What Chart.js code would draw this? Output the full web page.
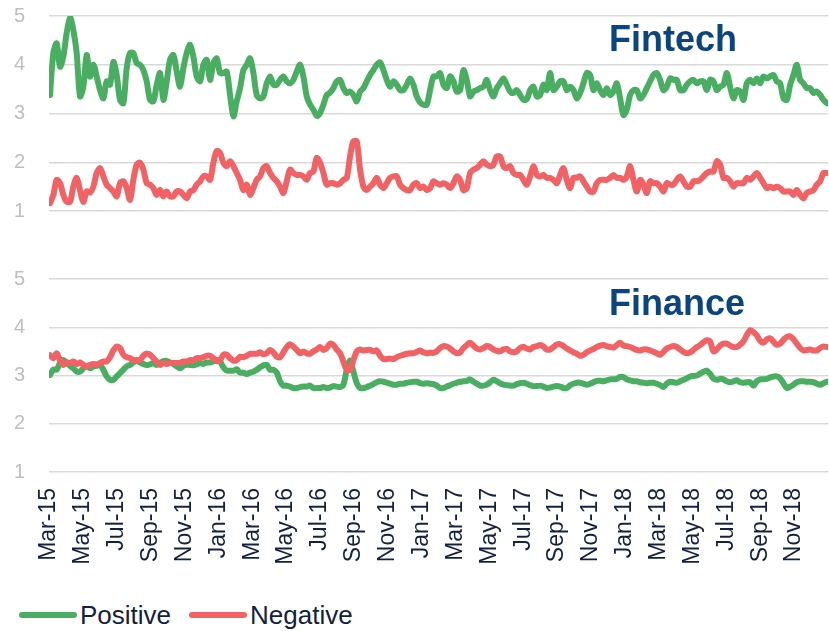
<!DOCTYPE html>
<html>
<head>
<meta charset="utf-8">
<script src="https://cdn.jsdelivr.net/npm/chart.js@4.4.1/dist/chart.umd.min.js"></script>
<style>
  html, body { margin: 0; padding: 0; background: #ffffff; }
  body { width: 829px; height: 631px; position: relative; overflow: hidden;
         font-family: "Liberation Sans", Arial, sans-serif; }
  #topWrap { position: absolute; left: 0; top: 0; width: 829px; height: 226px; }
  #botWrap { position: absolute; left: 0; top: 250px; width: 829px; height: 335px; }
  .panelTitle { position: absolute; font-weight: bold; font-size: 36px; line-height: 36px;
                color: #0a4582; white-space: nowrap; }
  #legend { position: absolute; left: 19px; top: 600px; display: flex; align-items: center; }
  .item { display: flex; align-items: center; height: 30px; margin-right: 18px; }
  .swatch { width: 58px; height: 6px; border-radius: 3px; margin-right: 3px; }
  .ltext { font-size: 26px; line-height: 30px; color: #13213f; }
</style>
</head>
<body>
<div id="topWrap"><canvas id="topChart" width="829" height="226"></canvas></div>
<div id="botWrap"><canvas id="botChart" width="829" height="335"></canvas></div>
<div class="panelTitle" style="left:609px; top:21px;">Fintech</div>
<div class="panelTitle" style="left:609px; top:285px;">Finance</div>
<div id="legend"></div>
<script>
// x-axis tick labels (every second month, months counted from Mar-15 = 0)
const tickLabels = ['Mar-15','May-15','Jul-15','Sep-15','Nov-15','Jan-16','Mar-16','May-16','Jul-16','Sep-16','Nov-16',
  'Jan-17','Mar-17','May-17','Jul-17','Sep-17','Nov-17','Jan-18','Mar-18','May-18','Jul-18','Sep-18','Nov-18'];
const seriesNames = ['Positive', 'Negative'];
// first and last observation, in months since 1 Mar 2015 (observations evenly spaced)
const firstMonth = 0.06;
const lastMonth = 45.93;

// Fintech sentiment
const fintechPositive = [
  3.38,4.24,4.44,3.96,4.17,4.65,4.97,4.71,4.24,3.35,3.55,4.20,3.76,4.00,3.76,3.48,3.31,3.66,3.59,4.06,
  3.79,3.28,3.21,3.93,4.24,4.24,4.03,4.00,3.89,3.66,3.28,3.25,3.59,3.83,3.28,3.66,4.10,4.20,3.86,3.55,
  3.93,4.24,4.41,4.17,3.76,3.66,4.00,4.10,3.69,4.03,4.13,3.83,3.83,3.86,3.38,2.94,3.25,3.52,3.89,
  4.00,4.13,3.83,3.38,3.31,3.35,3.62,3.76,3.59,3.59,3.69,3.76,3.66,3.62,3.69,3.86,4.00,3.76,3.35,3.18,
  3.08,2.95,3.01,3.18,3.38,3.43,3.52,3.66,3.69,3.52,3.42,3.45,3.38,3.25,3.45,3.52,3.66,3.79,3.89,4.00,
  4.05,3.89,3.69,3.55,3.66,3.59,3.48,3.48,3.59,3.72,3.59,3.35,3.23,3.18,3.18,3.48,3.76,3.76,
  3.83,3.59,3.52,3.76,3.66,3.45,3.48,3.89,3.69,3.35,3.45,3.48,3.52,3.55,3.69,3.48,3.35,3.52,3.62,3.72,
  3.59,3.45,3.42,3.48,3.38,3.28,3.29,3.48,3.55,3.35,3.38,3.59,3.48,3.83,3.48,3.55,3.66,3.66,3.48,3.55,
  3.48,3.31,3.42,3.62,3.83,3.79,3.48,3.62,3.48,3.38,3.52,3.38,3.45,3.62,3.31,2.97,3.08,3.38,3.48,
  3.48,3.31,3.38,3.52,3.66,3.79,3.83,3.69,3.48,3.55,3.72,3.69,3.69,3.48,3.48,3.59,3.66,3.69,3.62,3.66,
  3.66,3.48,3.69,3.66,3.48,3.55,3.59,3.83,3.55,3.31,3.48,3.45,3.28,3.62,3.69,3.62,3.72,3.62,3.76,3.72,
  3.76,3.79,3.66,3.62,3.31,3.28,3.59,3.79,4.00,3.69,3.62,3.52,3.52,3.42,3.45,3.38,3.28,3.21
];
const fintechNegative = [
  1.16,1.33,1.64,1.57,1.33,1.19,1.19,1.50,1.68,1.43,1.19,1.40,1.38,1.50,1.78,1.88,1.71,1.54,1.47,1.40,
  1.30,1.57,1.61,1.47,1.23,1.64,1.95,1.99,1.85,1.57,1.54,1.47,1.33,1.43,1.30,1.40,1.30,1.30,1.40,1.40,
  1.33,1.26,1.40,1.43,1.54,1.61,1.71,1.71,1.64,1.99,2.23,2.19,1.99,1.92,2.02,1.92,1.78,1.64,1.43,
  1.54,1.33,1.47,1.64,1.71,1.88,1.92,1.78,1.68,1.61,1.50,1.37,1.61,1.85,1.78,1.74,1.74,1.71,1.64,1.78,
  1.81,2.09,1.99,1.78,1.54,1.57,1.57,1.54,1.57,1.64,1.68,2.12,2.43,2.43,1.85,1.50,1.43,1.50,1.57,1.68,
  1.54,1.47,1.57,1.68,1.71,1.71,1.54,1.47,1.43,1.43,1.54,1.57,1.47,1.50,1.43,1.47,1.61,1.57,
  1.54,1.57,1.54,1.47,1.57,1.71,1.64,1.43,1.47,1.78,1.85,1.88,1.95,2.02,1.95,1.92,1.95,2.12,2.12,1.92,
  1.88,1.92,1.78,1.74,1.74,1.64,1.54,1.71,1.92,1.74,1.71,1.74,1.68,1.68,1.64,1.57,1.74,1.88,1.64,1.47,
  1.68,1.68,1.71,1.61,1.50,1.40,1.40,1.57,1.64,1.64,1.64,1.68,1.74,1.68,1.68,1.64,1.71,1.92,1.64,
  1.40,1.64,1.54,1.37,1.61,1.57,1.57,1.50,1.40,1.57,1.54,1.54,1.64,1.71,1.61,1.50,1.50,1.61,1.61,1.64,
  1.71,1.78,1.81,1.81,2.02,1.95,1.68,1.68,1.61,1.50,1.57,1.57,1.57,1.68,1.64,1.71,1.78,1.68,1.57,1.47,
  1.50,1.47,1.50,1.47,1.40,1.40,1.40,1.33,1.43,1.33,1.26,1.37,1.40,1.43,1.54,1.61,1.78,1.78
];

// Finance sentiment
const financePositive = [
  3.01,3.12,3.12,3.26,3.32,3.26,3.20,3.15,3.08,3.08,3.15,3.19,3.15,3.19,3.20,3.22,3.12,2.98,2.91,2.91,
  2.98,3.05,3.12,3.19,3.22,3.27,3.30,3.27,3.24,3.22,3.23,3.26,3.22,3.26,3.30,3.30,3.27,3.24,3.19,3.15,
  3.20,3.22,3.22,3.21,3.23,3.26,3.24,3.27,3.27,3.29,3.32,3.29,3.17,3.10,3.10,3.10,3.13,3.06,3.06,3.03,
  3.06,3.08,3.12,3.17,3.21,3.22,3.12,3.12,3.06,2.88,2.79,2.79,2.77,2.74,2.74,2.76,2.77,2.77,2.79,
  2.74,2.74,2.74,2.76,2.74,2.75,2.78,2.77,2.76,2.81,3.12,3.31,3.08,2.84,2.74,2.74,2.76,2.79,2.82,2.86,
  2.88,2.87,2.85,2.83,2.81,2.81,2.83,2.83,2.85,2.86,2.87,2.87,2.84,2.83,2.84,2.83,2.82,2.79,2.74,2.74,
  2.77,2.80,2.83,2.85,2.87,2.88,2.89,2.92,2.87,2.83,2.79,2.79,2.81,2.86,2.91,2.88,2.84,2.81,2.80,2.79,
  2.79,2.82,2.84,2.85,2.83,2.80,2.78,2.78,2.79,2.77,2.74,2.75,2.77,2.78,2.77,2.74,2.74,
  2.80,2.83,2.85,2.85,2.83,2.81,2.83,2.86,2.89,2.89,2.88,2.90,2.92,2.92,2.93,2.97,2.97,2.92,2.90,2.88,
  2.88,2.86,2.85,2.84,2.85,2.85,2.83,2.80,2.76,2.83,2.87,2.86,2.85,2.88,2.91,2.94,2.98,2.99,3.00,3.04,
  3.08,3.10,3.03,2.94,2.91,2.93,2.92,2.88,2.86,2.88,2.90,2.86,2.85,2.86,2.86,2.79,2.88,2.92,2.92,2.93,
  2.96,2.98,2.98,2.94,2.84,2.74,2.77,2.81,2.86,2.88,2.88,2.87,2.87,2.86,2.83,2.81,2.84,2.87
];
const financeNegative = [
  3.42,3.36,3.46,3.32,3.22,3.27,3.26,3.29,3.24,3.27,3.22,3.19,3.22,3.24,3.23,3.26,3.29,3.29,3.38,3.52,
  3.60,3.57,3.43,3.38,3.36,3.32,3.32,3.32,3.41,3.45,3.43,3.36,3.29,3.22,3.26,3.24,3.26,3.26,3.26,3.26,
  3.29,3.29,3.32,3.32,3.36,3.36,3.38,3.41,3.41,3.36,3.30,3.32,3.43,3.43,3.36,3.31,3.32,3.39,3.38,3.41,
  3.45,3.45,3.45,3.48,3.44,3.46,3.53,3.48,3.39,3.38,3.48,3.59,3.65,3.60,3.53,3.46,3.50,3.46,3.45,
  3.50,3.54,3.59,3.53,3.57,3.66,3.63,3.54,3.46,3.29,3.12,3.12,3.32,3.50,3.54,3.52,3.53,3.53,3.50,3.52,
  3.41,3.34,3.34,3.35,3.34,3.38,3.41,3.43,3.45,3.46,3.46,3.49,3.52,3.48,3.46,3.47,3.47,3.50,3.57,3.61,
  3.60,3.56,3.50,3.46,3.48,3.57,3.63,3.68,3.62,3.56,3.54,3.57,3.61,3.59,3.54,3.51,3.50,3.54,3.55,3.50,
  3.48,3.50,3.57,3.59,3.56,3.54,3.59,3.61,3.63,3.60,3.54,3.54,3.59,3.64,3.65,3.61,3.56,
  3.52,3.48,3.45,3.41,3.43,3.48,3.52,3.55,3.59,3.62,3.63,3.61,3.59,3.58,3.63,3.68,3.62,3.61,3.59,3.56,
  3.53,3.52,3.54,3.54,3.52,3.49,3.46,3.43,3.49,3.56,3.59,3.61,3.59,3.54,3.49,3.46,3.48,3.53,3.59,3.63,
  3.69,3.73,3.70,3.50,3.54,3.62,3.66,3.66,3.62,3.59,3.59,3.64,3.71,3.84,3.94,3.90,3.83,3.72,3.68,3.75,
  3.77,3.70,3.64,3.66,3.74,3.80,3.81,3.75,3.66,3.57,3.52,3.53,3.54,3.52,3.52,3.57,3.60,3.59
];

const GREEN = '#4aae62';
const RED = '#f26163';
const FONT = '"Liberation Sans", Arial, sans-serif';

function toPoints(vals) {
  const n = vals.length;
  return vals.map((v, i) => ({ x: firstMonth + i * (lastMonth - firstMonth) / (n - 1), y: v }));
}

function makeDatasets(pos, neg) {
  return [
    { label: seriesNames[0], data: toPoints(pos), borderColor: GREEN, backgroundColor: GREEN, order: 1 },
    { label: seriesNames[1], data: toPoints(neg), borderColor: RED, backgroundColor: RED, order: 0 }
  ];
}

function makeOptions(showX, padding) {
  return {
    responsive: false,
    animation: false,
    events: [],
    layout: { autoPadding: false, padding: padding },
    plugins: { legend: { display: false }, tooltip: { enabled: false }, title: { display: false } },
    elements: {
      point: { radius: 0 },
      line: { borderWidth: 6, tension: 0.3, borderCapStyle: 'round', borderJoinStyle: 'round', fill: false }
    },
    scales: {
      x: {
        type: 'linear', min: 0, max: 46, display: showX,
        grid: { display: false, drawTicks: false },
        border: { display: false },
        afterFit: (scale) => {
          if (!showX) { scale.height = 0; return; }
          scale.height = 93;
          scale.paddingLeft = 0;
          scale.paddingRight = 0;
        },
        ticks: {
          stepSize: 2, autoSkip: false, minRotation: 90, maxRotation: 90, padding: 16,
          color: '#13213f', font: { family: FONT, size: 23 },
          callback: (v) => {
            const k = v / 2;
            return (Number.isInteger(k) && k < tickLabels.length) ? tickLabels[k] : '';
          }
        }
      },
      y: {
        min: 1, max: 5,
        grid: { color: '#d9d9d9', lineWidth: 1.5, drawTicks: false },
        border: { display: false },
        afterFit: (scale) => { scale.width = 35; },
        ticks: { stepSize: 1, padding: 0, crossAlign: 'far', color: '#bfbfbf',
                 font: { family: FONT, size: 20 } }
      }
    }
  };
}

new Chart(document.getElementById('topChart'), {
  type: 'line',
  data: { datasets: makeDatasets(fintechPositive, fintechNegative) },
  options: makeOptions(false, { top: 16, bottom: 15, left: 14, right: 1 })
});

new Chart(document.getElementById('botChart'), {
  type: 'line',
  data: { datasets: makeDatasets(financePositive, financeNegative) },
  options: makeOptions(true, { top: 29, bottom: 20, left: 14, right: 1 })
});

// HTML legend built from the series names / colours
const legendEl = document.getElementById('legend');
[[seriesNames[0], GREEN], [seriesNames[1], RED]].forEach(([name, col]) => {
  const item = document.createElement('div');
  item.className = 'item';
  const sw = document.createElement('span');
  sw.className = 'swatch';
  sw.style.background = col;
  const tx = document.createElement('span');
  tx.className = 'ltext';
  tx.textContent = name;
  item.appendChild(sw);
  item.appendChild(tx);
  legendEl.appendChild(item);
});
</script>
</body>
</html>
